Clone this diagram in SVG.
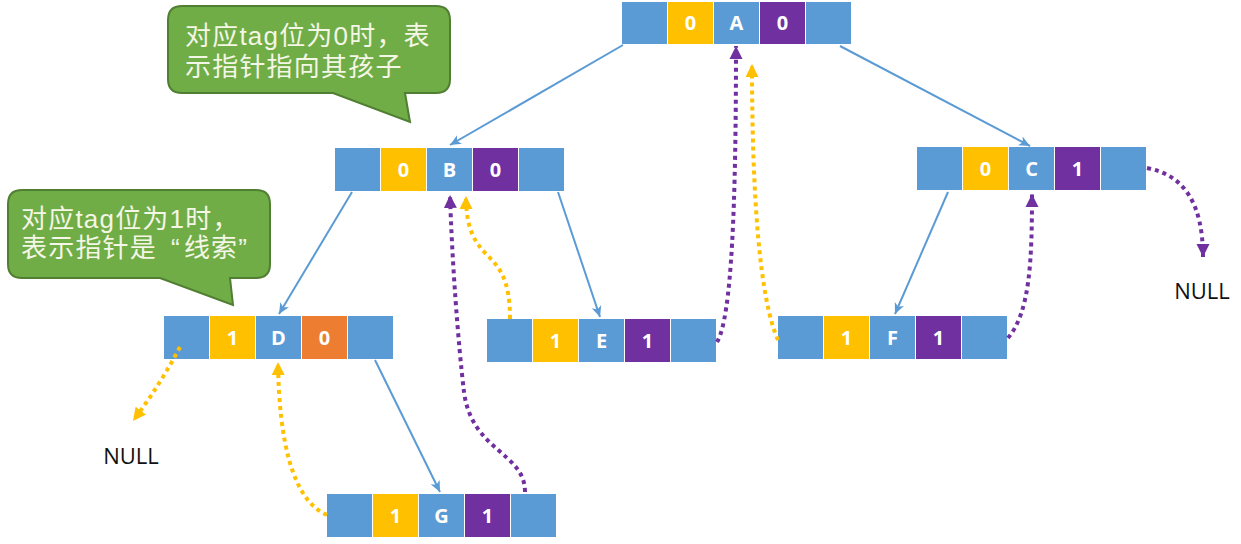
<svg xmlns="http://www.w3.org/2000/svg" width="1241" height="544" viewBox="0 0 1241 544">
<style>
.b{fill:#5B9BD5}.y{fill:#FFC000}.p{fill:#7030A0}.o{fill:#ED7D31}
.t{fill:#fff;font-family:"Open Sans","DejaVu Sans",sans-serif;font-weight:bold;font-size:20px;text-anchor:middle}
.solid{stroke:#5B9BD5;stroke-width:2;fill:none;marker-end:url(#ab)}
.dy{stroke:#FFC000;stroke-width:4;stroke-dasharray:4 4;fill:none;marker-end:url(#ay)}
.dp{stroke:#7030A0;stroke-width:4;stroke-dasharray:4 4;fill:none;marker-end:url(#ap)}
.call{fill:#70AD47;stroke:#507E32;stroke-width:2}
.ct{fill:#F4F6E6;font-family:"Liberation Sans","Noto Sans CJK SC",sans-serif;font-size:26px;letter-spacing:1.2px}
.null{fill:#111;font-family:"Open Sans","Liberation Sans",sans-serif;font-size:22px;text-anchor:middle}
</style>
<defs>
<marker id="ab" markerUnits="userSpaceOnUse" markerWidth="12" markerHeight="12" viewBox="0 0 12 12" refX="11" refY="6" orient="auto"><path d="M0,1 L11,6 L0,11 L3,6 Z" fill="#5B9BD5"/></marker>
<marker id="ay" markerUnits="userSpaceOnUse" markerWidth="14" markerHeight="14" viewBox="0 0 14 14" refX="13" refY="7" orient="auto"><path d="M0,0.5 L13,7 L0,13.5 Z" fill="#FFC000"/></marker>
<marker id="ap" markerUnits="userSpaceOnUse" markerWidth="14" markerHeight="14" viewBox="0 0 14 14" refX="13" refY="7" orient="auto"><path d="M0,0.5 L13,7 L0,13.5 Z" fill="#7030A0"/></marker>
</defs>
<rect width="1241" height="544" fill="#fff"/>

<g id="callout0">
<path class="call" d="M182,6 H436 Q450,6 450,20 V79 Q450,93 436,93 H405 L410,122 L333,93 H182 Q168,93 168,79 V20 Q168,6 182,6 Z"/>
<text class="ct" x="185" y="45">对应tag位为0时，表</text>
<text class="ct" x="185" y="76">示指针指向其孩子</text>
</g>
<g id="callout1">
<path class="call" d="M22,190 H256 Q270,190 270,204 V264 Q270,278 256,278 H230 L233,305 L160,278 H22 Q8,278 8,264 V204 Q8,190 22,190 Z"/>
<text class="ct" x="21" y="228">对应tag位为1时，</text>
<text class="ct" x="21" y="257">表示指针是<tspan dx="14">“</tspan><tspan dx="3">线索</tspan>”</text>
</g>

<g id="nodeA" transform="translate(622,2)">
<rect class="b" x="0" width="45" height="42"/><rect class="y" x="46" width="45" height="42"/><rect class="b" x="92" width="45" height="42"/><rect class="p" x="138" width="45" height="42"/><rect class="b" x="184" width="45" height="42"/>
<text class="t" x="68.5" y="28">0</text><text class="t" x="114.5" y="28">A</text><text class="t" x="160.5" y="28">0</text>
</g>
<g id="nodeB" transform="translate(335,148)">
<rect class="b" x="0" width="45" height="43"/><rect class="y" x="46" width="45" height="43"/><rect class="b" x="92" width="45" height="43"/><rect class="p" x="138" width="45" height="43"/><rect class="b" x="184" width="45" height="43"/>
<text class="t" x="68.5" y="29">0</text><text class="t" x="114.5" y="29">B</text><text class="t" x="160.5" y="29">0</text>
</g>
<g id="nodeC" transform="translate(917,147)">
<rect class="b" x="0" width="45" height="43"/><rect class="y" x="46" width="45" height="43"/><rect class="b" x="92" width="45" height="43"/><rect class="p" x="138" width="45" height="43"/><rect class="b" x="184" width="45" height="43"/>
<text class="t" x="68.5" y="29">0</text><text class="t" x="114.5" y="29">C</text><text class="t" x="160.5" y="29">1</text>
</g>
<g id="nodeD" transform="translate(164,316)">
<rect class="b" x="0" width="45" height="43"/><rect class="y" x="46" width="45" height="43"/><rect class="b" x="92" width="45" height="43"/><rect class="o" x="138" width="45" height="43"/><rect class="b" x="184" width="45" height="43"/>
<text class="t" x="68.5" y="29">1</text><text class="t" x="114.5" y="29">D</text><text class="t" x="160.5" y="29">0</text>
</g>
<g id="nodeE" transform="translate(487,319)">
<rect class="b" x="0" width="45" height="43"/><rect class="y" x="46" width="45" height="43"/><rect class="b" x="92" width="45" height="43"/><rect class="p" x="138" width="45" height="43"/><rect class="b" x="184" width="45" height="43"/>
<text class="t" x="68.5" y="29">1</text><text class="t" x="114.5" y="29">E</text><text class="t" x="160.5" y="29">1</text>
</g>
<g id="nodeF" transform="translate(778,316)">
<rect class="b" x="0" width="45" height="43"/><rect class="y" x="46" width="45" height="43"/><rect class="b" x="92" width="45" height="43"/><rect class="p" x="138" width="45" height="43"/><rect class="b" x="184" width="45" height="43"/>
<text class="t" x="68.5" y="29">1</text><text class="t" x="114.5" y="29">F</text><text class="t" x="160.5" y="29">1</text>
</g>
<g id="nodeG" transform="translate(327,494)">
<rect class="b" x="0" width="45" height="43"/><rect class="y" x="46" width="45" height="43"/><rect class="b" x="92" width="45" height="43"/><rect class="p" x="138" width="45" height="43"/><rect class="b" x="184" width="45" height="43"/>
<text class="t" x="68.5" y="29">1</text><text class="t" x="114.5" y="29">G</text><text class="t" x="160.5" y="29">1</text>
</g>

<g id="null1"><text class="null" x="1202" y="299">NULL</text></g>
<g id="null2"><text class="null" x="131" y="464">NULL</text></g>

<g id="connectors">
<path class="solid" d="M623,45 L450,145"/>
<path class="solid" d="M840,46 L1030,146"/>
<path class="solid" d="M352,192 L279,314"/>
<path class="solid" d="M558,192 L600,317"/>
<path class="solid" d="M948,192 L895,314"/>
<path class="solid" d="M375,360 L440,492"/>
<path class="dy" d="M510,319 C510,280 500,268 488,256 C474,242 466,228 466,196"/>
<path class="dp" d="M717,342 C732,318 736,200 736,46"/>
<path class="dy" d="M778,340 C760,300 752,200 752,64"/>
<path class="dp" d="M1008,338 C1030,312 1032,260 1032,194"/>
<path class="dp" d="M1147,168 C1185,175 1203,205 1203,257"/>
<path class="dy" d="M180,347 Q160,385 133,421"/>
<path class="dy" d="M327,515 C292,500 279,440 278,362"/>
<path class="dp" d="M525,492 C525,452 472,452 464,392 C458,342 452,260 450,195"/>
</g>
</svg>
